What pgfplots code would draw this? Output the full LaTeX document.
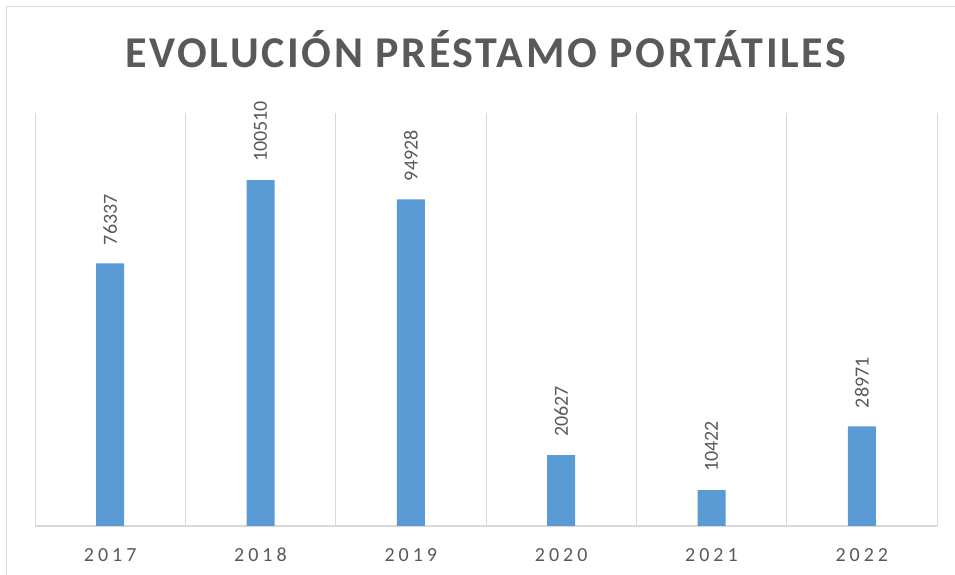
\documentclass[border=0pt]{standalone}
\usepackage{pgfplots}
\pgfplotsset{compat=1.18}
\usepackage{fontspec}
\setmainfont{Carlito}
\newfontfamily\titlefont[LetterSpace=6]{Carlito}
\newfontfamily\tickfont[LetterSpace=20]{Carlito}
\definecolor{barblue}{HTML}{5B9BD5}
\definecolor{txt}{HTML}{595959}
\definecolor{gridc}{HTML}{D9D9D9}
\begin{document}
\begin{tikzpicture}[x=1pt,y=1pt]
\useasboundingbox (0,0) rectangle (955,575);
\draw[gridc, line width=1pt] (6,0) -- (6,568) -- (955,568);
\begin{axis}[
 at={(35pt,49pt)}, anchor=south west,
 scale only axis, width=902pt, height=413pt,
 xmin=-0.5, xmax=5.5, ymin=0, ymax=120000,
 axis y line=none, axis x line*=bottom,
 x axis line style={gridc, line width=1.2pt},
 xtick={0,...,5}, xticklabels={2017,2018,2019,2020,2021,2022},
 major tick length=0pt, minor tick length=0pt,
 minor xtick={-0.5,0.5,...,5.5},
 xminorgrids=true, minor x grid style={gridc, line width=1pt},
 xticklabel style={font=\tickfont\fontsize{20}{24}\selectfont, text=txt, anchor=base, yshift=-35.5pt},
 ybar, bar width=28pt,
 point meta=explicit symbolic,
 nodes near coords={\pgfplotspointmeta},
 every node near coord/.append style={font=\fontsize{20}{24}\selectfont, text=txt, rotate=90, anchor=west, inner sep=0pt, xshift=18pt},
]
\addplot[fill=barblue, draw=none] coordinates {(0,76337) [76337] (1,100510) [100510] (2,94928) [94928] (3,20627) [20627] (4,10422) [10422] (5,28971) [28971]};
\end{axis}
\node[font=\titlefont\bfseries\fontsize{44}{50}\selectfont, text=txt, anchor=base] at (486,507) {EVOLUCIÓN PRÉSTAMO PORTÁTILES};
\end{tikzpicture}
\end{document}
